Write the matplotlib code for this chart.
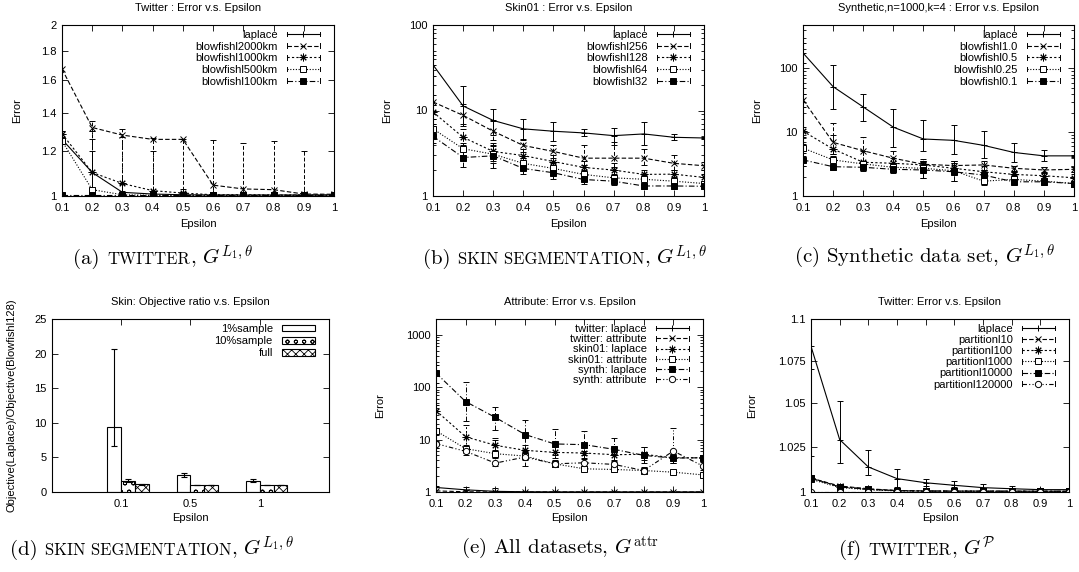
import matplotlib
matplotlib.use("Agg")
import matplotlib.pyplot as plt
import numpy as np
from matplotlib.legend_handler import HandlerLine2D
from matplotlib.lines import Line2D
from matplotlib.offsetbox import TextArea, HPacker, AnnotationBbox
from matplotlib.ticker import FixedLocator, FixedFormatter, NullLocator, LogLocator, NullFormatter

plt.rcParams['font.family'] = ['Liberation Sans', 'DejaVu Sans']
plt.rcParams['mathtext.fontset'] = 'cm'
plt.rcParams['hatch.linewidth'] = 0.6

W, H = 1079, 572
FS = 8

# ---------------- data ----------------
eps = [0.1, 0.2, 0.3, 0.4, 0.5, 0.6, 0.7, 0.8, 0.9, 1.0]
eps_labels = ['0.1', '0.2', '0.3', '0.4', '0.5', '0.6', '0.7', '0.8', '0.9', '1']

# (a) twitter, L1 theta
a_labels = ['laplace', 'blowfishl2000km', 'blowfishl1000km', 'blowfishl500km', 'blowfishl100km']
a_laplace = [1.258, 1.100, 1.015, 1.008, 1.005, 1.004, 1.004, 1.004, 1.004, 1.004]
a_laplace_lo = [1.0, 1.0, 1.0, 1.0, 1.002, 1.002, 1.002, 1.002, 1.002, 1.002]
a_laplace_hi = [1.30, 1.20, 1.05, 1.02, 1.008, 1.006, 1.006, 1.006, 1.006, 1.006]
a_b2000 = [1.673, 1.320, 1.280, 1.258, 1.258, 1.045, 1.029, 1.026, 1.008, 1.007]
a_b2000_lo = [1.0, 1.0, 1.0, 1.0, 1.0, 1.0, 1.0, 1.0, 1.0, 1.0]
a_b2000_hi = [2.0, 1.355, 1.31, 1.265, 1.262, 1.255, 1.238, 1.25, 1.20, 1.012]
a_b1000 = [1.287, 1.100, 1.052, 1.022, 1.012, 1.005, 1.005, 1.004, 1.004, 1.004]
a_b1000_lo = [1.0, 1.0, 1.0, 1.0, 1.0, 1.0, 1.0, 1.0, 1.0, 1.0]
a_b1000_hi = [1.30, 1.30, 1.27, 1.20, 1.03, 1.01, 1.008, 1.008, 1.008, 1.008]
a_b500 = [1.250, 1.026, 1.005, 1.003, 1.003, 1.003, 1.003, 1.003, 1.003, 1.003]
a_b500_lo = [1.0, 1.0, 1.0, 1.0, 1.0, 1.0, 1.0, 1.0, 1.0, 1.0]
a_b500_hi = [1.27, 1.26, 1.02, 1.01, 1.006, 1.005, 1.005, 1.005, 1.005, 1.005]
a_b100 = [1.003, 1.003, 1.003, 1.003, 1.003, 1.003, 1.003, 1.003, 1.003, 1.003]

# (b) skin segmentation, L1 theta
b_labels = ['laplace', 'blowfishl256', 'blowfishl128', 'blowfishl64', 'blowfishl32']
b_laplace = [34.2, 11.3, 7.65, 6.1, 5.72, 5.47, 5.08, 5.32, 4.86, 4.77]
b_laplace_lo = [25, 7.0, 5.2, 4.5, 4.35, 5.0, 4.0, 4.0, 4.55, 4.6]
b_laplace_hi = [45, 19.1, 10.5, 7.9, 7.3, 6.1, 6.3, 7.3, 5.3, 4.95]
b_b256 = [12.6, 8.77, 5.72, 3.9, 3.32, 2.77, 2.77, 2.77, 2.41, 2.26]
b_b256_lo = [10, 6.5, 4.5, 3.3, 2.8, 2.3, 2.2, 2.3, 2.0, 2.0]
b_b256_hi = [15, 12, 7.5, 4.6, 4.0, 4.0, 4.3, 3.5, 3.0, 2.5]
b_b128 = [9.6, 4.86, 3.32, 2.97, 2.53, 2.16, 2.01, 1.79, 1.80, 1.65]
b_b128_lo = [8, 4.0, 2.6, 2.5, 2.1, 1.85, 1.75, 1.6, 1.6, 1.5]
b_b128_hi = [11.5, 6, 4.2, 3.5, 3.0, 2.6, 2.4, 2.0, 2.0, 1.8]
b_b64 = [6.1, 3.57, 3.08, 2.41, 2.1, 1.79, 1.63, 1.57, 1.49, 1.40]
b_b64_lo = [5.2, 3.0, 2.4, 2.0, 1.8, 1.55, 1.45, 1.4, 1.35, 1.3]
b_b64_hi = [7, 4.2, 3.8, 2.8, 2.4, 2.0, 1.8, 1.75, 1.65, 1.5]
b_b32 = [4.99, 2.82, 2.95, 2.1, 1.87, 1.56, 1.49, 1.31, 1.31, 1.30]
b_b32_lo = [4.2, 2.2, 2.1, 1.8, 1.6, 1.4, 1.35, 1.22, 1.22, 1.2]
b_b32_hi = [5.8, 3.5, 4.0, 2.4, 2.1, 1.75, 1.65, 1.42, 1.42, 1.4]

# (c) synthetic, L1 theta
c_labels = ['laplace', 'blowfishl1.0', 'blowfishl0.5', 'blowfishl0.25', 'blowfishl0.1']
c_laplace = [175, 51.8, 24.9, 12.0, 7.83, 7.46, 6.22, 4.82, 4.26, 4.26]
c_laplace_lo = [120, 22.9, 15.0, 5.78, 5.0, 4.53, 3.9, 3.46, 3.55, 4.1]
c_laplace_hi = [250, 114, 39.6, 22.9, 15.3, 13.2, 10.6, 6.9, 5.3, 4.4]
c_b10 = [32.2, 6.93, 5.12, 3.91, 3.14, 3.0, 3.07, 2.72, 2.56, 2.62]
c_b10_lo = [25, 4.5, 3.5, 3.0, 2.6, 2.5, 2.6, 2.4, 2.3, 2.4]
c_b10_hi = [40, 14, 8.5, 5.0, 3.8, 3.5, 3.6, 3.0, 2.9, 2.9]
c_b05 = [10.4, 5.44, 3.38, 3.26, 3.07, 2.72, 2.4, 2.18, 2.08, 1.93]
c_b05_lo = [8.5, 4.5, 2.8, 2.7, 2.5, 2.2, 2.0, 1.9, 1.8, 1.7]
c_b05_hi = [12, 9, 5, 4.0, 3.6, 3.3, 3.0, 2.5, 2.4, 2.2]
c_b025 = [5.64, 3.68, 3.18, 2.82, 2.72, 2.49, 1.71, 1.82, 1.71, 1.57]
c_b025_lo = [4.8, 3.0, 2.7, 2.4, 1.9, 1.7, 1.5, 1.6, 1.5, 1.45]
c_b025_hi = [6.5, 4.2, 3.6, 3.3, 3.6, 3.6, 2.3, 2.1, 1.9, 1.7]
c_b01 = [3.68, 2.88, 2.82, 2.62, 2.56, 2.4, 2.13, 1.67, 1.67, 1.57]
c_b01_lo = [3.0, 2.6, 2.5, 2.3, 1.9, 1.7, 1.8, 1.55, 1.55, 1.45]
c_b01_hi = [4.3, 3.2, 3.1, 2.9, 3.4, 3.6, 2.6, 1.8, 1.8, 1.7]

# (d) skin, objective ratio bars
d_groups = ['0.1', '0.5', '1']
d_labels = ['1%sample', '10%sample', 'full']
d_s1 = [9.4, 2.5, 1.65]
d_s1_lo = [6.6, 2.2, 1.45]
d_s1_hi = [20.7, 2.8, 1.85]
d_s10 = [1.65, 1.0, 1.0]
d_s10_lo = [1.45, 0.95, 0.95]
d_s10_hi = [1.85, 1.05, 1.05]
d_full = [1.1, 1.0, 1.0]
d_full_lo = [1.05, 0.97, 0.97]
d_full_hi = [1.15, 1.03, 1.03]

# (e) all datasets, attribute
e_labels = ['twitter: laplace', 'twitter: attribute', 'skin01: laplace',
            'skin01: attribute', 'synth: laplace', 'synth: attribute']
e_tw_lap = [1.22, 1.10, 1.03, 1.01, 1.005, 1.004, 1.004, 1.003, 1.003, 1.003]
e_tw_lap_lo = [1.0, 1.0, 1.0, 1.0, 1.0, 1.0, 1.0, 1.0, 1.0, 1.0]
e_tw_lap_hi = [1.3, 1.25, 1.2, 1.05, 1.02, 1.01, 1.01, 1.01, 1.01, 1.01]
e_tw_attr = [1.05, 1.01, 1.003, 1.003, 1.003, 1.003, 1.003, 1.003, 1.003, 1.003]
e_skin_lap = [35.6, 11.3, 7.78, 6.24, 5.7, 5.54, 5.15, 5.23, 4.5, 4.5]
e_skin_lap_lo = [25, 7.0, 5.2, 4.5, 4.4, 5.0, 4.0, 4.0, 4.5, 4.4]
e_skin_lap_hi = [45, 19, 10.5, 7.9, 7.3, 6.1, 7.3, 7.3, 5.3, 5.0]
e_skin_attr = [14.7, 6.7, 5.38, 4.85, 3.45, 2.77, 2.69, 2.57, 2.39, 2.12]
e_skin_attr_lo = [12, 5.5, 4.5, 4.0, 3.0, 2.5, 2.4, 2.35, 2.2, 1.95]
e_skin_attr_hi = [17, 8, 6.2, 5.6, 3.9, 3.1, 3.0, 2.8, 2.6, 2.3]
e_syn_lap = [186, 53, 26.5, 12.5, 8.26, 8.0, 6.52, 5.0, 4.44, 4.5]
e_syn_lap_lo = [120, 23, 15, 5.8, 5.0, 4.5, 3.9, 3.5, 3.5, 4.2]
e_syn_lap_hi = [260, 123, 41, 24, 16, 14.5, 10.9, 7.2, 5.3, 4.8]
e_syn_attr = [8.38, 5.97, 3.56, 4.64, 3.45, 3.61, 3.36, 2.57, 6.05, 3.12]
e_syn_attr_lo = [7, 5, 3.1, 3.1, 3.0, 3.2, 3.0, 2.3, 3.5, 2.6]
e_syn_attr_hi = [9.5, 7, 10, 6, 4, 4.2, 3.8, 3.0, 17, 3.8]

# (f) twitter, partition
f_labels = ['laplace', 'partitionl10', 'partitionl100', 'partitionl1000',
            'partitionl10000', 'partitionl120000']
f_laplace = [1.0836, 1.0293, 1.0139, 1.0074, 1.0051, 1.0037, 1.0024, 1.0018, 1.0013, 1.0013]
f_laplace_lo = [1.07, 1.0163, 1.0092, 1.003, 1.0035, 1.0025, 1.0015, 1.0012, 1.001, 1.001]
f_laplace_hi = [1.1, 1.0512, 1.0232, 1.0126, 1.0074, 1.0059, 1.0046, 1.0033, 1.0022, 1.0018]
f_p10 = [1.0077, 1.0033, 1.0018, 1.0008, 1.0006, 1.0005, 1.0005, 1.0005, 1.0004, 1.0004]
f_p10_lo = [1.0, 1.001, 1.001, 1.0005, 1.0004, 1.0003, 1.0003, 1.0003, 1.0003, 1.0003]
f_p10_hi = [1.02, 1.0045, 1.0025, 1.0012, 1.0009, 1.0007, 1.0007, 1.0007, 1.0006, 1.0006]
f_p100 = [1.0075, 1.0030, 1.0015, 1.0007, 1.0005, 1.0005, 1.0005, 1.0004, 1.0004, 1.0004]
f_p1000 = [1.0070, 1.0025, 1.0012, 1.0006, 1.0005, 1.0004, 1.0004, 1.0004, 1.0003, 1.0003]
f_p10000 = [1.0077, 1.0028, 1.0015, 1.0008, 1.0005, 1.0005, 1.0004, 1.0004, 1.0004, 1.0004]
f_p120000 = [1.0, 1.0, 1.0, 1.0, 1.0, 1.0, 1.0, 1.0, 1.0, 1.0]

# gnuplot-like point/line types
STYLES = [
    dict(ls='-', marker='+', ms=5),
    dict(ls=(0, (4, 2)), marker='x', ms=4.5),
    dict(ls=(0, (2, 2)), marker=(8, 2, 0), ms=5.5),
    dict(ls=(0, (1, 1.5)), marker='s', ms=4.5, mfc='white'),
    dict(ls=(0, (5, 2, 1, 2)), marker='s', ms=5, mfc='black'),
    dict(ls=(0, (4, 2, 1, 2, 1, 2)), marker='o', ms=4.5, mfc='white'),
]


class HandlerCap(HandlerLine2D):
    """key sample like gnuplot: |--+--|"""
    def create_artists(self, legend, orig_handle, xdescent, ydescent, width, height, fontsize, trans):
        arts = super().create_artists(legend, orig_handle, xdescent, ydescent, width, height, fontsize, trans)
        yc = height / 2 - ydescent
        for xe in (-xdescent, width - xdescent):
            arts.append(Line2D([xe, xe], [yc - 0.3 * height, yc + 0.3 * height],
                               color='black', lw=0.7, transform=trans))
        return arts


fig = plt.figure(figsize=(W / 100, H / 100), dpi=100)


def px_axes(l, t, r, b):
    return fig.add_axes([l / W, 1 - b / H, (r - l) / W, (b - t) / H])


def frame(ax, l, t, r, b, title, title_y, xlab_y, ylab, ylab_x):
    ax.tick_params(which='both', direction='in', top=True, right=True, labelsize=FS, width=0.6)
    ax.tick_params(which='major', length=4)
    ax.tick_params(which='minor', length=2)
    ax.tick_params(axis='x', pad=5)
    ax.tick_params(axis='y', pad=4)
    for s in ax.spines.values():
        s.set_linewidth(0.8)
    fig.text((l + r) / 2 / W, 1 - title_y / H, title, ha='center', va='center', fontsize=FS)
    fig.text((l + r) / 2 / W, 1 - xlab_y / H, 'Epsilon', ha='center', va='center', fontsize=FS)
    fig.text(ylab_x / W, 1 - (t + b) / 2 / H, ylab, ha='center', va='center', rotation=90, fontsize=FS)


def plot_series(ax, y, lo, hi, style, label):
    y = np.asarray(y, dtype=float)
    yerr = None
    if lo is not None:
        yerr = [y - np.asarray(lo), np.asarray(hi) - y]
    cont = ax.errorbar(eps, y, yerr=yerr, color='black', lw=0.8, elinewidth=0.7,
                       capsize=2, capthick=0.7, mec='black', mew=0.7, label=label, **style)
    for bl in cont[2]:
        bl.set_linestyle(style['ls'])
    return cont[0]


def add_legend(ax, handles, labels, l, t, r, b, spacing):
    ax.legend(handles, labels, loc='upper right',
              bbox_to_anchor=(1 - 14 / (r - l), 1 - 5 / (b - t)),
              frameon=False, markerfirst=False, fontsize=FS, handlelength=3,
              handletextpad=0.8, labelspacing=spacing, borderaxespad=0, borderpad=0,
              numpoints=1, handler_map={Line2D: HandlerCap()})


def eps_axis(ax):
    ax.set_xlim(0.1, 1.0)
    ax.xaxis.set_major_locator(FixedLocator(eps))
    ax.xaxis.set_major_formatter(FixedFormatter(eps_labels))
    ax.xaxis.set_minor_locator(NullLocator())


def log_decades(ax, lo, hi, ticks, labels):
    ax.set_yscale('log')
    ax.set_ylim(lo, hi)
    ax.yaxis.set_major_locator(FixedLocator(ticks))
    ax.yaxis.set_major_formatter(FixedFormatter(labels))
    ax.yaxis.set_minor_locator(LogLocator(base=10, subs=range(2, 10)))
    ax.yaxis.set_minor_formatter(NullFormatter())


def line_panel(box, title, title_y, xlab_y, ylab_x, series, labels, spacing):
    l, t, r, b = box
    ax = px_axes(l, t, r, b)
    handles = []
    for i, (y, lo, hi) in enumerate(series):
        handles.append(plot_series(ax, y, lo, hi, STYLES[i], labels[i]))
    eps_axis(ax)
    frame(ax, l, t, r, b, title, title_y, xlab_y, 'Error', ylab_x)
    add_legend(ax, handles, labels, l, t, r, b, spacing)
    return ax


# ---------------- (a) ----------------
ax = line_panel((62, 25, 334, 196), 'Twitter : Error v.s. Epsilon', 8, 224, 17,
                [(a_laplace, a_laplace_lo, a_laplace_hi),
                 (a_b2000, a_b2000_lo, a_b2000_hi),
                 (a_b1000, a_b1000_lo, a_b1000_hi),
                 (a_b500, a_b500_lo, a_b500_hi),
                 (a_b100, None, None)], a_labels, 0.15)
ax.set_yscale('log')
ax.set_ylim(1, 2)
ax.yaxis.set_major_locator(FixedLocator([1, 1.2, 1.4, 1.6, 1.8, 2]))
ax.yaxis.set_major_formatter(FixedFormatter(['1', '1.2', '1.4', '1.6', '1.8', '2']))
ax.yaxis.set_minor_locator(NullLocator())
ax.yaxis.set_minor_formatter(NullFormatter())

# ---------------- (b) ----------------
ax = line_panel((433, 25, 704, 196), 'Skin01 : Error v.s. Epsilon', 8, 224, 387,
                [(b_laplace, b_laplace_lo, b_laplace_hi),
                 (b_b256, b_b256_lo, b_b256_hi),
                 (b_b128, b_b128_lo, b_b128_hi),
                 (b_b64, b_b64_lo, b_b64_hi),
                 (b_b32, b_b32_lo, b_b32_hi)], b_labels, 0.15)
log_decades(ax, 1, 100, [1, 10, 100], ['1', '10', '100'])

# ---------------- (c) ----------------
ax = line_panel((803, 25, 1074, 196), 'Synthetic,n=1000,k=4 : Error v.s. Epsilon', 8, 224, 757,
                [(c_laplace, c_laplace_lo, c_laplace_hi),
                 (c_b10, c_b10_lo, c_b10_hi),
                 (c_b05, c_b05_lo, c_b05_hi),
                 (c_b025, c_b025_lo, c_b025_hi),
                 (c_b01, c_b01_lo, c_b01_hi)], c_labels, 0.15)
log_decades(ax, 1, 480, [1, 10, 100], ['1', '10', '100'])

# ---------------- (d) ----------------
l, t, r, b = 52, 319, 329, 492
ax = px_axes(l, t, r, b)
xg = np.arange(len(d_groups))
bar_sets = [(d_s1, d_s1_lo, d_s1_hi, None, -0.1),
            (d_s10, d_s10_lo, d_s10_hi, 'oo', 0.1),
            (d_full, d_full_lo, d_full_hi, 'xxxx', 0.3)]
bar_handles = []
for (vals, lo, hi, hatch, off), lab in zip(bar_sets, d_labels):
    v = np.asarray(vals)
    bars = ax.bar(xg + off, v, width=0.2, color='white', edgecolor='black', linewidth=0.8,
                  hatch=hatch, label=lab,
                  yerr=[v - np.asarray(lo), np.asarray(hi) - v], capsize=2,
                  error_kw=dict(elinewidth=0.8, capthick=0.8, ecolor='black'))
    bar_handles.append(bars)
ax.set_xlim(-1, 3)
ax.set_ylim(0, 25)
ax.xaxis.set_major_locator(FixedLocator(xg))
ax.xaxis.set_major_formatter(FixedFormatter(d_groups))
ax.yaxis.set_major_locator(FixedLocator([0, 5, 10, 15, 20, 25]))
frame(ax, l, t, r, b, 'Skin: Objective ratio v.s. Epsilon', 302, 518,
      'Objective(Laplace)/Objective(Blowfishl128)', 12)
ax.legend(bar_handles, d_labels, loc='upper right',
          bbox_to_anchor=(1 - 14 / (r - l), 1 - 5 / (b - t)),
          frameon=False, markerfirst=False, fontsize=FS, handlelength=3,
          handleheight=0.55, handletextpad=0.8, labelspacing=0.2,
          borderaxespad=0, borderpad=0)

# ---------------- (e) ----------------
ax = line_panel((436, 319, 703, 492), 'Attribute: Error v.s. Epsilon', 302, 518, 380,
                [(e_tw_lap, e_tw_lap_lo, e_tw_lap_hi),
                 (e_tw_attr, None, None),
                 (e_skin_lap, e_skin_lap_lo, e_skin_lap_hi),
                 (e_skin_attr, e_skin_attr_lo, e_skin_attr_hi),
                 (e_syn_lap, e_syn_lap_lo, e_syn_lap_hi),
                 (e_syn_attr, e_syn_attr_lo, e_syn_attr_hi)], e_labels, 0.02)
log_decades(ax, 1, 2000, [1, 10, 100, 1000], ['1', '10', '100', '1000'])

# ---------------- (f) ----------------
ax = line_panel((811, 319, 1069, 492), 'Twitter: Error v.s. Epsilon', 302, 518, 752,
                [(f_laplace, f_laplace_lo, f_laplace_hi),
                 (f_p10, f_p10_lo, f_p10_hi),
                 (f_p100, None, None),
                 (f_p1000, None, None),
                 (f_p10000, None, None),
                 (f_p120000, None, None)], f_labels, 0.1)
ax.set_yscale('log')
ax.set_ylim(1, 1.1)
ax.yaxis.set_major_locator(FixedLocator([1, 1.025, 1.05, 1.075, 1.1]))
ax.yaxis.set_major_formatter(FixedFormatter(['1', '1.025', '1.05', '1.075', '1.1']))
ax.yaxis.set_minor_locator(NullLocator())
ax.yaxis.set_minor_formatter(NullFormatter())


# ---------------- captions ----------------
def caption(cx, cy, parts, size=15):
    boxes = []
    for text, sc in parts:
        fs = size * 0.8 if sc else size
        boxes.append(TextArea(text, textprops=dict(fontsize=fs, family='cmr10')))
    pack = HPacker(children=boxes, align='baseline', pad=0, sep=0)
    ab = AnnotationBbox(pack, (cx / W, 1 - cy / H), xycoords='figure fraction',
                        frameon=False, box_alignment=(0.5, 0.5), pad=0)
    fig.add_artist(ab)


G_L1 = r', $G^{L_1,\theta}$'
caption(163, 257, [('(a) ', False), ('TWITTER', True), (G_L1, False)])
caption(565, 257, [('(b) ', False), ('SKIN SEGMENTATION', True), (G_L1, False)])
caption(925, 257, [('(c) Synthetic data set' + G_L1, False)])
caption(152, 548, [('(d) ', False), ('SKIN SEGMENTATION', True), (G_L1, False)])
caption(560, 548, [(r'(e) All datasets, $G^{\mathrm{attr}}$', False)])
caption(917, 548, [('(f) ', False), ('TWITTER', True), (r', $G^{\mathcal{P}}$', False)])

fig.savefig('out.png', dpi=100)
